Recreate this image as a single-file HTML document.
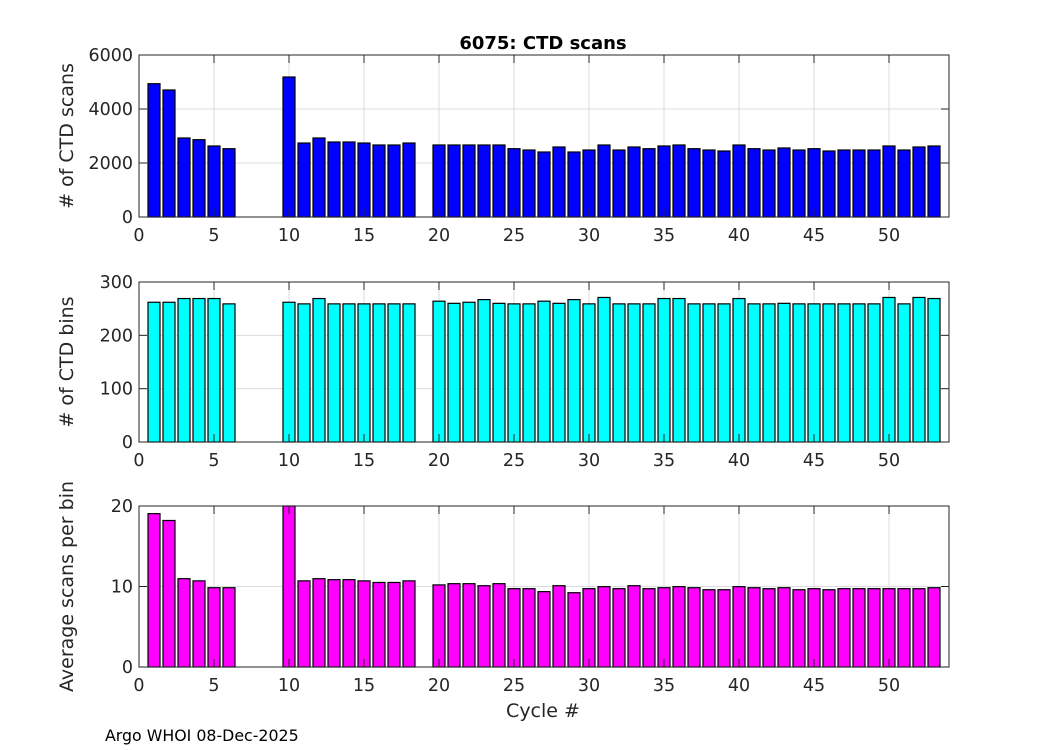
<!DOCTYPE html>
<html><head><meta charset="utf-8"><style>
body{margin:0;background:#fff;}
svg{display:block;font-family:"DejaVu Sans","Liberation Sans",sans-serif;}
</style></head><body>
<svg id="chart" width="1050" height="750">
<text x="543" y="49" text-anchor="middle" font-size="18" font-weight="bold" fill="#000">6075: CTD scans</text>
<text x="105" y="741" text-anchor="start" font-size="15.8" fill="#000">Argo WHOI 08-Dec-2025</text>
<text x="543" y="717" text-anchor="middle" font-size="19" fill="#262626">Cycle #</text>
</svg>
<script>
const cycles=[1,2,3,4,5,6,10,11,12,13,14,15,16,17,18,20,21,22,23,24,25,26,27,28,29,30,31,32,33,34,35,36,37,38,39,40,41,42,43,44,45,46,47,48,49,50,51,52,53];
const scans=[4937,4704,2926,2863,2630,2530,5185,2740,2926,2778,2778,2740,2667,2667,2740,2667,2667,2667,2667,2667,2530,2481,2407,2593,2407,2481,2667,2481,2593,2530,2630,2667,2530,2481,2444,2667,2530,2481,2556,2481,2530,2444,2481,2481,2481,2630,2481,2593,2630];
const bins=[262,262,269,269,269,259,262,259,269,259,259,259,259,259,259,264,260,262,267,260,259,259,264,260,267,259,271,259,259,259,269,269,259,259,259,269,259,259,260,259,259,259,259,259,259,271,259,271,269];
const avg=[19.05,18.2,10.97,10.7,9.85,9.85,20,10.7,10.97,10.85,10.85,10.7,10.5,10.5,10.7,10.2,10.35,10.35,10.1,10.35,9.73,9.73,9.36,10.1,9.23,9.73,9.98,9.73,10.1,9.73,9.85,9.98,9.85,9.6,9.6,9.98,9.85,9.73,9.85,9.6,9.73,9.6,9.73,9.73,9.73,9.73,9.73,9.73,9.85];
const xTicks=[0,5,10,15,20,25,30,35,40,45,50];
const scanTicks=[0,2000,4000,6000];
const binTicks=[0,100,200,300];
const avgTicks=[0,10,20];
const NS='http://www.w3.org/2000/svg';
const svg=document.getElementById('chart');
const X0=139,X1=949,XMIN=0,XMAX=54;
function xs(v){return X0+(v-XMIN)/(XMAX-XMIN)*(X1-X0);}
function mk(tag,attrs,parent){const e=document.createElementNS(NS,tag);for(const k in attrs)e.setAttribute(k,attrs[k]);(parent||svg).appendChild(e);return e;}
function panel(name,top,bottom,ymax,yTicks,vals,color,label){
  const g=mk('g',{});
  
  
  const ys=v=>bottom-v/ymax*(bottom-top);
  xTicks.forEach(t=>{const l=mk('line',{x1:xs(t),x2:xs(t),y1:top,y2:bottom,stroke:'#dcdcdc','stroke-width':1},g);
    
    });
  yTicks.forEach(t=>{const l=mk('line',{x1:X0,x2:X1,y1:ys(t),y2:ys(t),stroke:'#dcdcdc','stroke-width':1},g);
    
    });
  vals.forEach((v,i)=>{const c=cycles[i];const r=mk('rect',{x:xs(c-0.4),y:ys(v),width:xs(c+0.4)-xs(c-0.4),height:bottom-ys(v),fill:color,stroke:'#000','stroke-width':1.2},g);
    
    });
  const box=mk('rect',{x:X0,y:top,width:X1-X0,height:bottom-top,fill:'none',stroke:'#262626','stroke-width':1},g);
  
  
  xTicks.forEach(t=>{mk('line',{x1:xs(t),x2:xs(t),y1:bottom,y2:bottom-8,stroke:'#262626'},g);mk('line',{x1:xs(t),x2:xs(t),y1:top,y2:top+8,stroke:'#262626'},g);
    const tx=mk('text',{x:xs(t),y:bottom+24,'text-anchor':'middle','font-size':17.5,fill:'#262626'},g);tx.textContent=t;
    
    });
  yTicks.forEach(t=>{mk('line',{x1:X0,x2:X0+8,y1:ys(t),y2:ys(t),stroke:'#262626'},g);mk('line',{x1:X1,x2:X1-8,y1:ys(t),y2:ys(t),stroke:'#262626'},g);
    const tx=mk('text',{x:X0-6,y:ys(t)+6,'text-anchor':'end','font-size':17.5,fill:'#262626'},g);tx.textContent=t;
    
    });
  const cy=(top+bottom)/2;
  const yl=mk('text',{x:0,y:0,transform:'translate(73,'+cy+') rotate(-90)','text-anchor':'middle','font-size':19,fill:'#262626'},g);
  yl.textContent=label;
  
  
}
panel('ctd-scans',55,217,6000,scanTicks,scans,'#0000ff','# of CTD scans');
panel('ctd-bins',282,442,300,binTicks,bins,'#00ffff','# of CTD bins');
panel('avg-scans',506,667,20,avgTicks,avg,'#ff00ff','Average scans per bin');
</script>
</body></html>
